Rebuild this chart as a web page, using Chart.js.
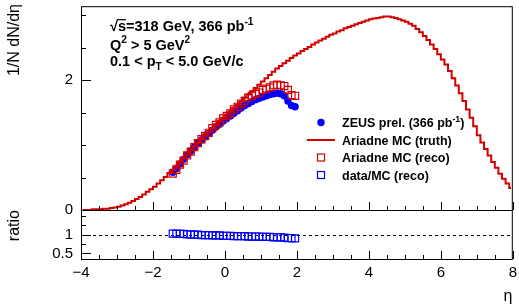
<!DOCTYPE html>
<html>
<head>
<meta charset="utf-8">
<script src="https://cdn.jsdelivr.net/npm/chart.js@4.4.0/dist/chart.umd.min.js"></script>
<style>
  html, body { margin: 0; padding: 0; background: #fff; }
  #wrap { position: relative; width: 519px; height: 306px; }
  #wrap canvas { position: absolute; left: 0; top: 0; }
</style>
</head>
<body>
<div id="wrap">
  <canvas id="mainCanvas" width="519" height="306"></canvas>
  <canvas id="ratioCanvas" width="519" height="306"></canvas>
</div>
<script>
// --- data ---
// Ariadne MC (truth): histogram, 120 bins of 0.1 from eta = -4 to 8
const truthStart = -4;
const truthWidth = 0.1;
const truthValues = [
  0.00, 0.00, 0.00, 0.01, 0.01, 0.01, 0.02, 0.02, 0.03, 0.04,
  0.05, 0.07, 0.09, 0.11, 0.14, 0.17, 0.20, 0.24, 0.28, 0.32,
  0.36, 0.41, 0.46, 0.51, 0.57, 0.62, 0.68, 0.74, 0.80, 0.86,
  0.92, 0.98, 1.04, 1.10, 1.15, 1.21, 1.26, 1.32, 1.37, 1.42,
  1.47, 1.52, 1.57, 1.62, 1.67, 1.73, 1.78, 1.83, 1.88, 1.93,
  1.98, 2.03, 2.08, 2.13, 2.18, 2.22, 2.26, 2.30, 2.34, 2.38,
  2.41, 2.45, 2.48, 2.51, 2.55, 2.58, 2.61, 2.64, 2.67, 2.70,
  2.72, 2.75, 2.77, 2.80, 2.82, 2.84, 2.86, 2.88, 2.90, 2.92,
  2.94, 2.95, 2.96, 2.97, 2.98, 2.98, 2.97, 2.96, 2.94, 2.92,
  2.90, 2.87, 2.84, 2.79, 2.74, 2.68, 2.62, 2.55, 2.48, 2.40,
  2.32, 2.24, 2.14, 2.03, 1.92, 1.80, 1.68, 1.55, 1.42, 1.29,
  1.15, 1.04, 0.94, 0.84, 0.74, 0.65, 0.56, 0.48, 0.41, 0.34
];

// measured points (ZEUS prel.), MC reco and data/MC ratio
const dataEta = [
  -1.45, -1.35, -1.25, -1.15, -1.05, -0.95, -0.85, -0.75, -0.65, -0.55,
  -0.45, -0.35, -0.25, -0.15, -0.05, 0.05, 0.15, 0.25, 0.35, 0.45,
  0.55, 0.65, 0.75, 0.85, 0.95, 1.05, 1.15, 1.25, 1.35, 1.45,
  1.55, 1.65, 1.75, 1.85, 1.95
];
const zeusValues = [
  0.58, 0.64, 0.71, 0.78, 0.85, 0.91, 0.97, 1.03, 1.08, 1.13,
  1.18, 1.23, 1.28, 1.32, 1.37, 1.41, 1.45, 1.49, 1.53, 1.57,
  1.61, 1.64, 1.67, 1.70, 1.72, 1.74, 1.76, 1.78, 1.79, 1.80,
  1.79, 1.76, 1.68, 1.61, 1.59
];
const recoValues = [
  0.56, 0.62, 0.70, 0.76, 0.84, 0.90, 0.97, 1.03, 1.09, 1.14,
  1.19, 1.26, 1.31, 1.35, 1.41, 1.45, 1.49, 1.55, 1.59, 1.64,
  1.68, 1.73, 1.76, 1.79, 1.81, 1.85, 1.87, 1.89, 1.92, 1.93,
  1.92, 1.91, 1.85, 1.77, 1.76
];
const ratioValues = [
  1.03, 1.03, 1.02, 1.02, 1.01, 1.01, 1.00, 1.00, 0.99, 0.99,
  0.99, 0.98, 0.98, 0.98, 0.97, 0.97, 0.97, 0.96, 0.96, 0.96,
  0.96, 0.95, 0.95, 0.95, 0.95, 0.94, 0.94, 0.94, 0.93, 0.93,
  0.93, 0.92, 0.91, 0.91, 0.90
];

const xTickLabels = [-4, -2, 0, 2, 4, 6, 8];
const mainTickLabels = [0, 2];
const ratioTickLabels = [0.5, 1];

const RED = '#d40000';
const BLUE = '#0000ff';
const FONT = '"Liberation Sans", Arial, Helvetica, sans-serif';

const pts = (xs, ys) => ys.map((v, i) => ({ x: xs[i], y: v }));
const truthPts = truthValues.map((v, i) => ({ x: truthStart + truthWidth * (i + 0.5), y: v }));

// fixed axis boxes so both panels share the same plot area
function fixBox(w, h) {
  return s => {
    if (w !== null) s.width = w;
    if (h !== null) s.height = h;
    s.paddingTop = 0; s.paddingBottom = 0; s.paddingLeft = 0; s.paddingRight = 0;
  };
}

// ROOT-like frame with inward ticks
function drawFrame(chart, yMinor, yMajor, yLen) {
  const { ctx, chartArea: a, scales } = chart;
  ctx.save();
  ctx.strokeStyle = '#000';
  ctx.lineWidth = 1;
  ctx.strokeRect(a.left + 0.5, a.top + 0.5, a.right - a.left - 1, a.bottom - a.top);
  ctx.beginPath();
  for (let v = -4; v <= 8.001; v += 0.5) {
    const px = Math.round(scales.x.getPixelForValue(v)) + 0.5;
    const len = Math.abs(v % 2) < 1e-6 ? 8 : 4;
    ctx.moveTo(px, a.bottom);
    ctx.lineTo(px, a.bottom - len);
  }
  yMinor.forEach(v => {
    const py = Math.round(scales.y.getPixelForValue(v)) + 0.5;
    const len = yMajor.includes(v) ? yLen : yLen / 2;
    ctx.moveTo(a.left, py);
    ctx.lineTo(a.left + len, py);
  });
  ctx.stroke();
  ctx.restore();
}

function rich(ctx, x, y, parts, size, weight) {
  let cx = x;
  parts.forEach(p => {
    const small = p.sup || p.sub;
    const s = small ? size * 0.7 : size;
    ctx.font = `${weight} ${s}px ${FONT}`;
    const dy = p.sup ? -size * 0.42 : (p.sub ? size * 0.3 : 0);
    ctx.fillText(p.t, cx, y + dy);
    const w = ctx.measureText(p.t).width;
    if (p.over) {
      ctx.save();
      ctx.lineWidth = 1.2;
      ctx.beginPath();
      ctx.moveTo(cx - 1, y - size * 0.78);
      ctx.lineTo(cx + w, y - size * 0.78);
      ctx.stroke();
      ctx.restore();
    }
    cx += w;
  });
}

const mainDecor = {
  id: 'mainDecor',
  afterDraw(chart) {
    drawFrame(chart, [0, 0.5, 1, 1.5, 2, 2.5, 3], [0, 2], 10);
    const ctx = chart.ctx;
    ctx.save();
    ctx.fillStyle = '#000';
    ctx.strokeStyle = '#000';
    ctx.textBaseline = 'alphabetic';
    ctx.textAlign = 'left';
    // annotation
    rich(ctx, 110, 31, [{ t: '√' }, { t: 's', over: true }, { t: '=318 GeV, 366 pb' }, { t: '-1', sup: true }], 14.5, 'bold');
    rich(ctx, 110, 49.5, [{ t: 'Q' }, { t: '2', sup: true }, { t: ' > 5 GeV' }, { t: '2', sup: true }], 14.5, 'bold');
    rich(ctx, 110, 66, [{ t: '0.1 < p' }, { t: 'T', sub: true }, { t: ' < 5.0 GeV/c' }], 14.5, 'bold');

    // legend
    const lx = 342;
    const rows = [127, 144.5, 162, 179.5];
    rich(ctx, lx, rows[0], [{ t: 'ZEUS prel. (366 pb' }, { t: '-1', sup: true }, { t: ')' }], 12.5, 'bold');
    rich(ctx, lx, rows[1], [{ t: 'Ariadne MC (truth)' }], 12.5, 'bold');
    rich(ctx, lx, rows[2], [{ t: 'Ariadne MC (reco)' }], 12.5, 'bold');
    rich(ctx, lx, rows[3], [{ t: 'data/MC (reco)' }], 12.5, 'bold');
    ctx.fillStyle = BLUE;
    ctx.beginPath();
    ctx.arc(321, rows[0] - 4.5, 3.7, 0, Math.PI * 2);
    ctx.fill();
    ctx.strokeStyle = RED;
    ctx.lineWidth = 2;
    ctx.beginPath();
    ctx.moveTo(307, rows[1] - 4.5);
    ctx.lineTo(335, rows[1] - 4.5);
    ctx.stroke();
    ctx.lineWidth = 1.2;
    ctx.strokeRect(317.5, rows[2] - 8, 7, 7);
    ctx.strokeStyle = BLUE;
    ctx.strokeRect(317.5, rows[3] - 8, 7, 7);

    // y title
    ctx.fillStyle = '#000';
    ctx.font = `16px ${FONT}`;
    ctx.translate(15, 4);
    ctx.rotate(-Math.PI / 2);
    ctx.textAlign = 'right';
    ctx.textBaseline = 'middle';
    ctx.fillText('1/N dN/dη', 0, 0);
    ctx.restore();
  }
};

const ratioDecor = {
  id: 'ratioDecor',
  beforeDatasetsDraw(chart) {
    const { ctx, chartArea: a, scales } = chart;
    const py = Math.round(scales.y.getPixelForValue(1)) + 0.5;
    ctx.save();
    ctx.strokeStyle = '#000';
    ctx.lineWidth = 1;
    ctx.setLineDash([3, 3]);
    ctx.beginPath();
    ctx.moveTo(a.left, py);
    ctx.lineTo(a.right, py);
    ctx.stroke();
    ctx.restore();
  },
  afterDraw(chart) {
    drawFrame(chart, [0.5, 0.75, 1, 1.25, 1.5], [0.5, 1], 10);
    const ctx = chart.ctx;
    ctx.save();
    ctx.fillStyle = '#000';
    ctx.font = `16px ${FONT}`;
    ctx.textBaseline = 'middle';
    ctx.textAlign = 'center';
    ctx.fillText('η', 508, 297);
    ctx.translate(15, 210);
    ctx.rotate(-Math.PI / 2);
    ctx.textAlign = 'right';
    ctx.fillText('ratio', 0, 0);
    ctx.restore();
  }
};

const tickFont = { family: FONT, size: 15 };

new Chart(document.getElementById('mainCanvas'), {
  type: 'scatter',
  data: {
    datasets: [
      {
        label: 'Ariadne MC (truth)',
        data: truthPts,
        showLine: true,
        stepped: 'middle',
        borderColor: RED,
        borderWidth: 2,
        pointRadius: 0
      },
      {
        label: 'Ariadne MC (reco)',
        data: pts(dataEta, recoValues),
        pointStyle: 'rect',
        pointRadius: 5,
        borderColor: RED,
        backgroundColor: 'rgba(0,0,0,0)',
        borderWidth: 1.2
      },
      {
        label: 'ZEUS prel.',
        data: pts(dataEta, zeusValues),
        pointStyle: 'circle',
        pointRadius: 3.7,
        borderWidth: 0,
        backgroundColor: BLUE,
        borderColor: BLUE
      }
    ]
  },
  options: {
    responsive: false,
    animation: false,
    layout: { padding: { left: 21, right: 4, top: 6, bottom: 56 } },
    scales: {
      x: {
        type: 'linear', min: -4, max: 8,
        grid: { display: false }, border: { display: false },
        ticks: { display: false },
        afterFit: fixBox(null, 40)
      },
      y: {
        type: 'linear', min: 0, max: 3.14,
        grid: { display: false, drawTicks: false }, border: { display: false },
        ticks: {
          stepSize: 2, includeBounds: false, padding: 8, color: '#000', font: tickFont,
          callback: v => (mainTickLabels.includes(v) ? String(v) : '')
        },
        afterFit: fixBox(60, null)
      }
    },
    plugins: { legend: { display: false }, tooltip: { enabled: false } }
  },
  plugins: [mainDecor]
});

new Chart(document.getElementById('ratioCanvas'), {
  type: 'scatter',
  data: {
    datasets: [
      {
        label: 'data/MC (reco)',
        data: pts(dataEta, ratioValues),
        pointStyle: 'rect',
        pointRadius: 5,
        borderColor: BLUE,
        backgroundColor: 'rgba(0,0,0,0)',
        borderWidth: 1.2
      }
    ]
  },
  options: {
    responsive: false,
    animation: false,
    layout: { padding: { left: 21, right: 4, top: 210, bottom: 7 } },
    scales: {
      x: {
        type: 'linear', min: -4, max: 8,
        grid: { display: false, drawTicks: false }, border: { display: false },
        ticks: {
          stepSize: 2, padding: 5, color: '#000', font: tickFont, maxRotation: 0, autoSkip: false,
          callback: v => (xTickLabels.includes(v) ? (v < 0 ? '\u2212' + Math.abs(v) : String(v)) : '')
        },
        afterFit: fixBox(null, 40)
      },
      y: {
        type: 'linear', min: 0.35, max: 1.66,
        grid: { display: false, drawTicks: false }, border: { display: false },
        ticks: {
          stepSize: 0.5, includeBounds: false, padding: 8, color: '#000', font: tickFont,
          callback: v => (ratioTickLabels.includes(v) ? String(v) : '')
        },
        afterFit: fixBox(60, null)
      }
    },
    plugins: { legend: { display: false }, tooltip: { enabled: false } }
  },
  plugins: [ratioDecor]
});
</script>
</body>
</html>
